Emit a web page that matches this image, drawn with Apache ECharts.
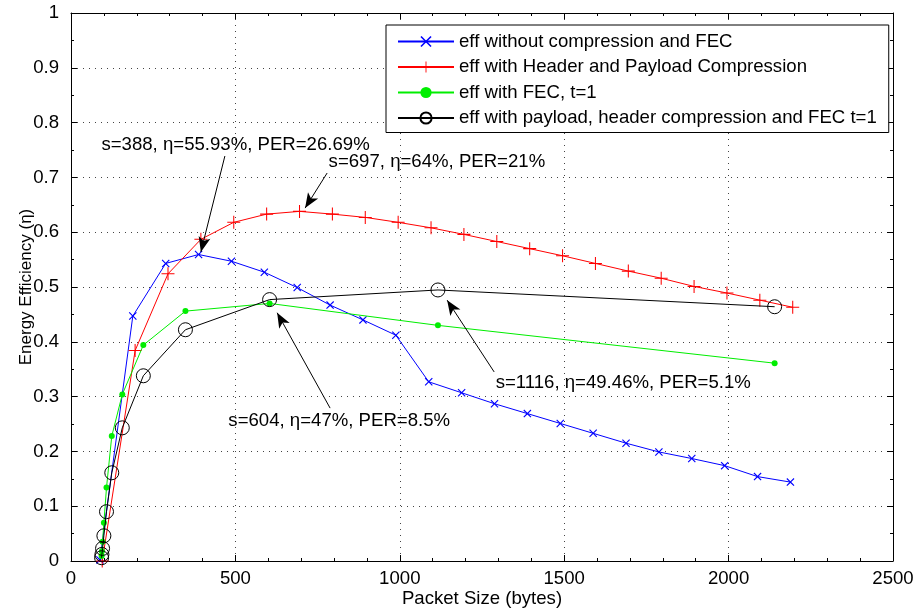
<!DOCTYPE html>
<html>
<head>
<meta charset="utf-8">
<title>Energy Efficiency vs Packet Size</title>
<script src="https://cdn.jsdelivr.net/npm/echarts@6/dist/echarts.min.js"></script>
<style>
  html, body { margin: 0; padding: 0; background: #fff; }
  #chart { width: 920px; height: 612px; }
</style>
</head>
<body>
<div id="chart"></div>
<script>
// packet sizes (bytes) and efficiencies
const blueSize = [88, 188, 288, 388, 488, 588, 688, 788, 888, 988, 1088, 1188, 1288, 1388, 1488, 1588, 1688, 1788, 1888, 1988, 2088, 2188];
const blueEff = [0.002, 0.447, 0.543, 0.5593, 0.547, 0.527, 0.499, 0.467, 0.440, 0.412, 0.327, 0.307, 0.287, 0.269, 0.251, 0.233, 0.215, 0.199, 0.187, 0.174, 0.154, 0.144];

const redSize = [95, 195, 295, 395, 495, 595, 695, 795, 895, 995, 1095, 1195, 1295, 1395, 1495, 1595, 1695, 1795, 1895, 1995, 2095, 2195];
const redEff = [0.0, 0.384, 0.524, 0.587, 0.618, 0.633, 0.638, 0.633, 0.627, 0.618, 0.608, 0.596, 0.583, 0.570, 0.557, 0.543, 0.529, 0.516, 0.501, 0.489, 0.476, 0.463];

const fecSize = [93, 94, 96, 100, 108, 124, 156, 220, 348, 604, 1116, 2140];
const greenEff = [0.009, 0.018, 0.035, 0.070, 0.134, 0.228, 0.304, 0.394, 0.456, 0.470, 0.430, 0.361];
const blackEff = [0.006, 0.012, 0.023, 0.046, 0.090, 0.161, 0.243, 0.338, 0.422, 0.477, 0.4946, 0.464];

const seriesNames = [
  "eff without compression and FEC",
  "eff with Header and Payload Compression",
  "eff with FEC, t=1",
  "eff with payload, header compression and FEC t=1"
];

// annotation text: [x, y, text]
const noteText = [
  [91, 0.759, "s=388, η=55.93%, PER=26.69%"],
  [782, 0.728, "s=697, η=64%, PER=21%"],
  [477, 0.255, "s=604, η=47%, PER=8.5%"],
  [1290, 0.325, "s=1116, η=49.46%, PER=5.1%"]
];
// annotation arrows: [fromX, fromY, toX, toY]
const noteArrow = [
  [468, 0.739, 395, 0.564],
  [779, 0.708, 712, 0.644],
  [788, 0.279, 627, 0.453],
  [1287, 0.345, 1144, 0.476]
];

const FONT = "'Liberation Sans', Arial, Helvetica, sans-serif";
const FS = 18.6;
const xMarker = "path://M0,1 L1,0 L5,4 L9,0 L10,1 L6,5 L10,9 L9,10 L5,6 L1,10 L0,9 L4,5 Z";
const plusMarker = "path://M4.6,0 H5.4 V4.6 H10 V5.4 H5.4 V10 H4.6 V5.4 H0 V4.6 H4.6 Z";

function zip(xs, ys) {
  return xs.map((x, i) => [x, ys[i]]);
}

const chart = echarts.init(document.getElementById("chart"), null, { renderer: "canvas" });

const dotted = { show: true, lineStyle: { color: "#444", type: [1, 5], width: 1 } };

const option = {
  animation: false,
  backgroundColor: "#fff",
  textStyle: { fontFamily: FONT },
  grid: { left: 71, right: 27, top: 13, bottom: 51, show: false, outerBoundsMode: "none", containLabel: false },
  legend: {
    orient: "vertical",
    left: 386,
    top: 25,
    padding: [7, 12, 5, 11],
    itemWidth: 56,
    itemHeight: 14,
    itemGap: 6.5,
    backgroundColor: "#fff",
    borderColor: "#000",
    borderWidth: 1,
    borderRadius: 0,
    textStyle: { fontFamily: FONT, fontSize: FS, color: "#000" },
    data: seriesNames
  },
  xAxis: [
    {
      type: "value",
      min: 0,
      max: 2500,
      interval: 500,
      name: "Packet Size (bytes)",
      nameLocation: "middle",
      nameGap: 28,
      nameMoveOverlap: false,
      nameTextStyle: { fontFamily: FONT, fontSize: FS, color: "#000" },
      axisLine: { show: true, onZero: false, lineStyle: { color: "#000", width: 1 } },
      axisTick: { show: true, inside: true, length: 6, lineStyle: { color: "#000" } },
      minorTick: { show: true, splitNumber: 5, length: 3, lineStyle: { color: "#000" } },
      axisLabel: { fontFamily: FONT, fontSize: FS, color: "#000", margin: 8, formatter: v => String(v) },
      splitLine: dotted
    },
    {
      type: "value",
      position: "top",
      min: 0,
      max: 2500,
      interval: 500,
      axisLine: { show: true, onZero: false, lineStyle: { color: "#000", width: 1 } },
      axisTick: { show: true, inside: true, length: 6, lineStyle: { color: "#000" } },
      minorTick: { show: true, splitNumber: 5, length: 3, lineStyle: { color: "#000" } },
      axisLabel: { show: false },
      splitLine: { show: false }
    }
  ],
  yAxis: [
    {
      type: "value",
      min: 0,
      max: 1,
      interval: 0.1,
      name: "Energy Efficiency (η)",
      nameLocation: "middle",
      nameGap: 36,
      nameMoveOverlap: false,
      nameTextStyle: { fontFamily: FONT, fontSize: 17, color: "#000" },
      axisLine: { show: true, onZero: false, lineStyle: { color: "#000", width: 1 } },
      axisTick: { show: true, inside: true, length: 6, lineStyle: { color: "#000" } },
      minorTick: { show: true, splitNumber: 2, length: 3, lineStyle: { color: "#000" } },
      axisLabel: {
        fontFamily: FONT, fontSize: FS, color: "#000", margin: 12,
        formatter: v => (Math.round(v * 10) / 10).toString()
      },
      splitLine: dotted
    },
    {
      type: "value",
      position: "right",
      min: 0,
      max: 1,
      interval: 0.1,
      axisLine: { show: true, onZero: false, lineStyle: { color: "#000", width: 1 } },
      axisTick: { show: true, inside: true, length: 6, lineStyle: { color: "#000" } },
      minorTick: { show: true, splitNumber: 2, length: 3, lineStyle: { color: "#000" } },
      axisLabel: { show: false },
      splitLine: { show: false }
    }
  ],
  series: [
    {
      name: seriesNames[0],
      type: "line",
      data: zip(blueSize, blueEff),
      symbol: xMarker,
      symbolSize: 8,
      showAllSymbol: true,
      itemStyle: { color: "#0000ff" },
      lineStyle: { color: "#0000ff", width: 1 },
      z: 2
    },
    {
      name: seriesNames[1],
      type: "line",
      data: zip(redSize, redEff),
      symbol: plusMarker,
      symbolSize: 13,
      showAllSymbol: true,
      itemStyle: { color: "#ff0000" },
      lineStyle: { color: "#ff0000", width: 1 },
      z: 3
    },
    {
      name: seriesNames[2],
      type: "line",
      data: zip(fecSize, greenEff),
      symbol: "circle",
      symbolSize: 6,
      showAllSymbol: true,
      itemStyle: { color: "#00ee00" },
      lineStyle: { color: "#00ee00", width: 1 },
      z: 4
    },
    {
      name: seriesNames[3],
      type: "line",
      data: zip(fecSize, blackEff),
      symbol: "circle",
      symbolSize: 14,
      showAllSymbol: true,
      itemStyle: { color: "rgba(0,0,0,0)", borderColor: "#000", borderWidth: 1 },
      lineStyle: { color: "#000", width: 1 },
      z: 5,
      markLine: {
        silent: true,
        symbol: ["none", "arrow"],
        symbolSize: [9, 15],
        label: { show: false },
        lineStyle: { color: "#000", width: 1, type: "solid" },
        emphasis: { disabled: true },
        data: noteArrow.map(a => [{ coord: [a[0], a[1]] }, { coord: [a[2], a[3]] }])
      },
      markPoint: {
        silent: true,
        symbol: "rect",
        symbolSize: 1,
        itemStyle: { color: "rgba(0,0,0,0)" },
        label: {
          show: true,
          position: "right",
          distance: 0,
          fontFamily: FONT,
          fontSize: FS,
          color: "#000",
          formatter: p => p.name
        },
        data: noteText.map(n => ({ coord: [n[0], n[1]], name: n[2] }))
      }
    }
  ]
};

chart.setOption(option);
</script>
</body>
</html>
